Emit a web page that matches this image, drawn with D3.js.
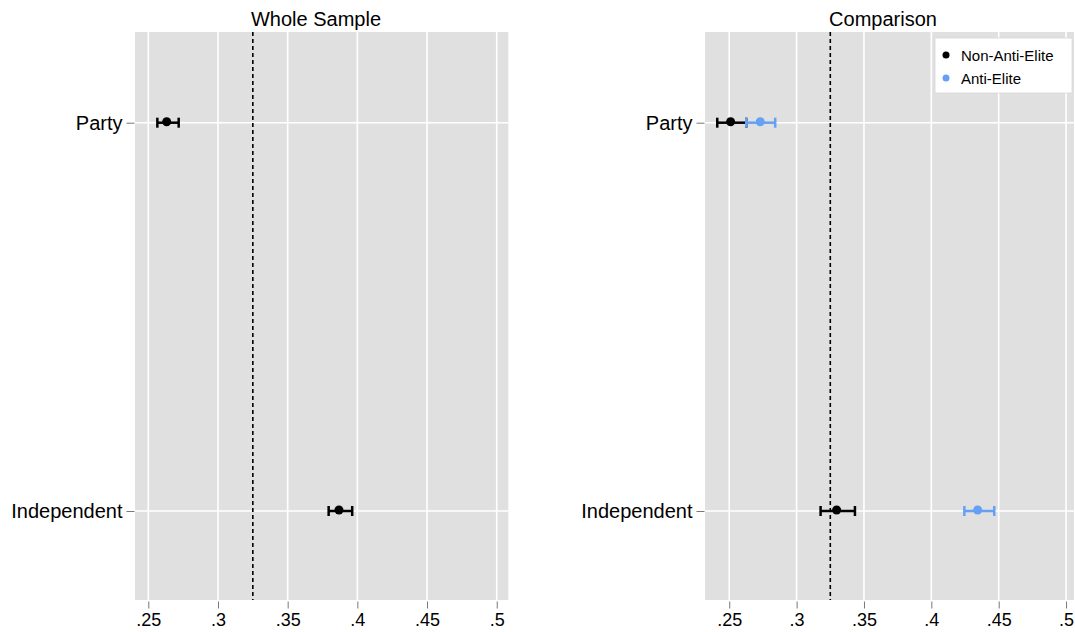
<!DOCTYPE html>
<html>
<head>
<meta charset="utf-8">
<script src="https://cdn.jsdelivr.net/npm/d3@7"></script>
<style>
  html, body { margin: 0; padding: 0; background: #fff; }
  svg { display: block; font-family: "Liberation Sans", Arial, Helvetica, sans-serif; }
</style>
</head>
<body>
<svg id="chart" width="1075" height="632"></svg>
<script>
// Categories and tick labels
const categories = ["Party", "Independent"];
const tickValues = [0.25, 0.3, 0.35, 0.4, 0.45, 0.5];
const refLine = 0.325;

// Whole sample: point estimates with confidence bounds
const wholeEst = [0.2632, 0.3868];
const wholeLo  = [0.2565, 0.3794];
const wholeHi  = [0.2718, 0.3963];

// Comparison: non-anti-elite vs anti-elite
const nonAntiEst = [0.2510, 0.3297];
const nonAntiLo  = [0.2411, 0.3178];
const nonAntiHi  = [0.2626, 0.3433];
const antiEst    = [0.2730, 0.4344];
const antiLo     = [0.2626, 0.4245];
const antiHi     = [0.2841, 0.4467];

const seriesNames = ["Non-Anti-Elite", "Anti-Elite"];
const seriesColors = ["#000000", "#64a0f4"];

const svg = d3.select("#chart");
const plotTop = 32, plotBottom = 600;

function panel(cfg) {
  const g = svg.append("g");
  const x = d3.scaleLinear().domain(cfg.domain).range([cfg.left, cfg.right]);
  const y = d3.scalePoint().domain(categories).range([122.7, 511]);

  g.append("rect")
    .attr("x", cfg.left).attr("y", plotTop)
    .attr("width", cfg.right - cfg.left).attr("height", plotBottom - plotTop)
    .attr("fill", "#e0e0e0");

  // vertical gridlines
  g.selectAll(".vg").data(tickValues).enter().append("line")
    .attr("x1", d => x(d)).attr("x2", d => x(d))
    .attr("y1", plotTop).attr("y2", plotBottom)
    .attr("stroke", "#ffffff").attr("stroke-width", 1.6);

  // horizontal gridlines
  g.selectAll(".hg").data(categories).enter().append("line")
    .attr("x1", cfg.left).attr("x2", cfg.right)
    .attr("y1", d => y(d)).attr("y2", d => y(d))
    .attr("stroke", "#ffffff").attr("stroke-width", 1.6);

  // reference line
  g.append("line")
    .attr("x1", x(refLine)).attr("x2", x(refLine))
    .attr("y1", plotTop).attr("y2", plotBottom)
    .attr("stroke", "#000").attr("stroke-width", 1.6)
    .attr("stroke-dasharray", "4,3");

  // x axis
  const xAxis = d3.axisBottom(x).tickValues(tickValues)
    .tickFormat(d => d3.format(".2~f")(d).replace(/^0/, ""))
    .tickSize(7).tickPadding(5);
  const xa = g.append("g").attr("transform", `translate(0,${plotBottom + 1.5})`).call(xAxis);
  xa.select(".domain").remove();
  xa.selectAll(".tick line").attr("stroke", "#777").attr("stroke-width", 1);
  xa.selectAll(".tick text").attr("fill", "#000").attr("font-size", 18)
    .attr("font-family", "Liberation Sans, Arial, sans-serif");

  // y axis
  const yAxis = d3.axisLeft(y).tickSize(8).tickPadding(4);
  const ya = g.append("g").attr("transform", `translate(${cfg.left - 0.5},0)`).call(yAxis);
  ya.select(".domain").remove();
  ya.selectAll(".tick line").attr("stroke", "#777").attr("stroke-width", 1);
  ya.selectAll(".tick text").attr("fill", "#000").attr("font-size", 20)
    .attr("font-family", "Liberation Sans, Arial, sans-serif");

  // title
  g.append("text")
    .attr("x", cfg.titleX).attr("y", 26)
    .attr("text-anchor", "middle").attr("font-size", 20).attr("fill", "#000")
    .text(cfg.title);

  // series with error bars
  cfg.series.forEach(s => {
    const data = categories.map((c, i) => ({ c, est: s.est[i], lo: s.lo[i], hi: s.hi[i] }));
    const sg = g.append("g");
    sg.selectAll(".bar").data(data).enter().append("line")
      .attr("x1", d => x(d.lo)).attr("x2", d => x(d.hi))
      .attr("y1", d => y(d.c)).attr("y2", d => y(d.c))
      .attr("stroke", s.color).attr("stroke-width", 2.5);
    ["lo", "hi"].forEach(k => {
      sg.selectAll(".cap" + k).data(data).enter().append("line")
        .attr("x1", d => x(d[k])).attr("x2", d => x(d[k]))
        .attr("y1", d => y(d.c) - 5).attr("y2", d => y(d.c) + 5)
        .attr("stroke", s.color).attr("stroke-width", 2.5);
    });
    sg.selectAll(".pt").data(data).enter().append("circle")
      .attr("cx", d => x(d.est)).attr("cy", d => y(d.c) - 1)
      .attr("r", 4.5).attr("fill", s.color);
  });
  return { g, x, y };
}

panel({
  left: 135, right: 508.3, domain: [0.24046, 0.5083],
  title: "Whole Sample", titleX: 316,
  series: [{ est: wholeEst, lo: wholeLo, hi: wholeHi, color: "#000" }]
});

const right = panel({
  left: 705, right: 1074, domain: [0.2320, 0.5059],
  title: "Comparison", titleX: 883,
  series: [
    { est: nonAntiEst, lo: nonAntiLo, hi: nonAntiHi, color: seriesColors[0] },
    { est: antiEst, lo: antiLo, hi: antiHi, color: seriesColors[1] }
  ]
});

// legend
const lg = right.g.append("g");
lg.append("rect")
  .attr("x", 935).attr("y", 38).attr("width", 137).attr("height", 55)
  .attr("fill", "#fff").attr("stroke", "#d8d8d8").attr("stroke-width", 0.8);
seriesNames.forEach((name, i) => {
  lg.append("circle").attr("cx", 946).attr("cy", 55 + i * 23).attr("r", 3.5).attr("fill", seriesColors[i]);
  lg.append("text").attr("x", 961).attr("y", 55 + i * 23)
    .attr("dominant-baseline", "central").attr("font-size", 15).attr("fill", "#000")
    .text(name);
});
</script>
</body>
</html>
